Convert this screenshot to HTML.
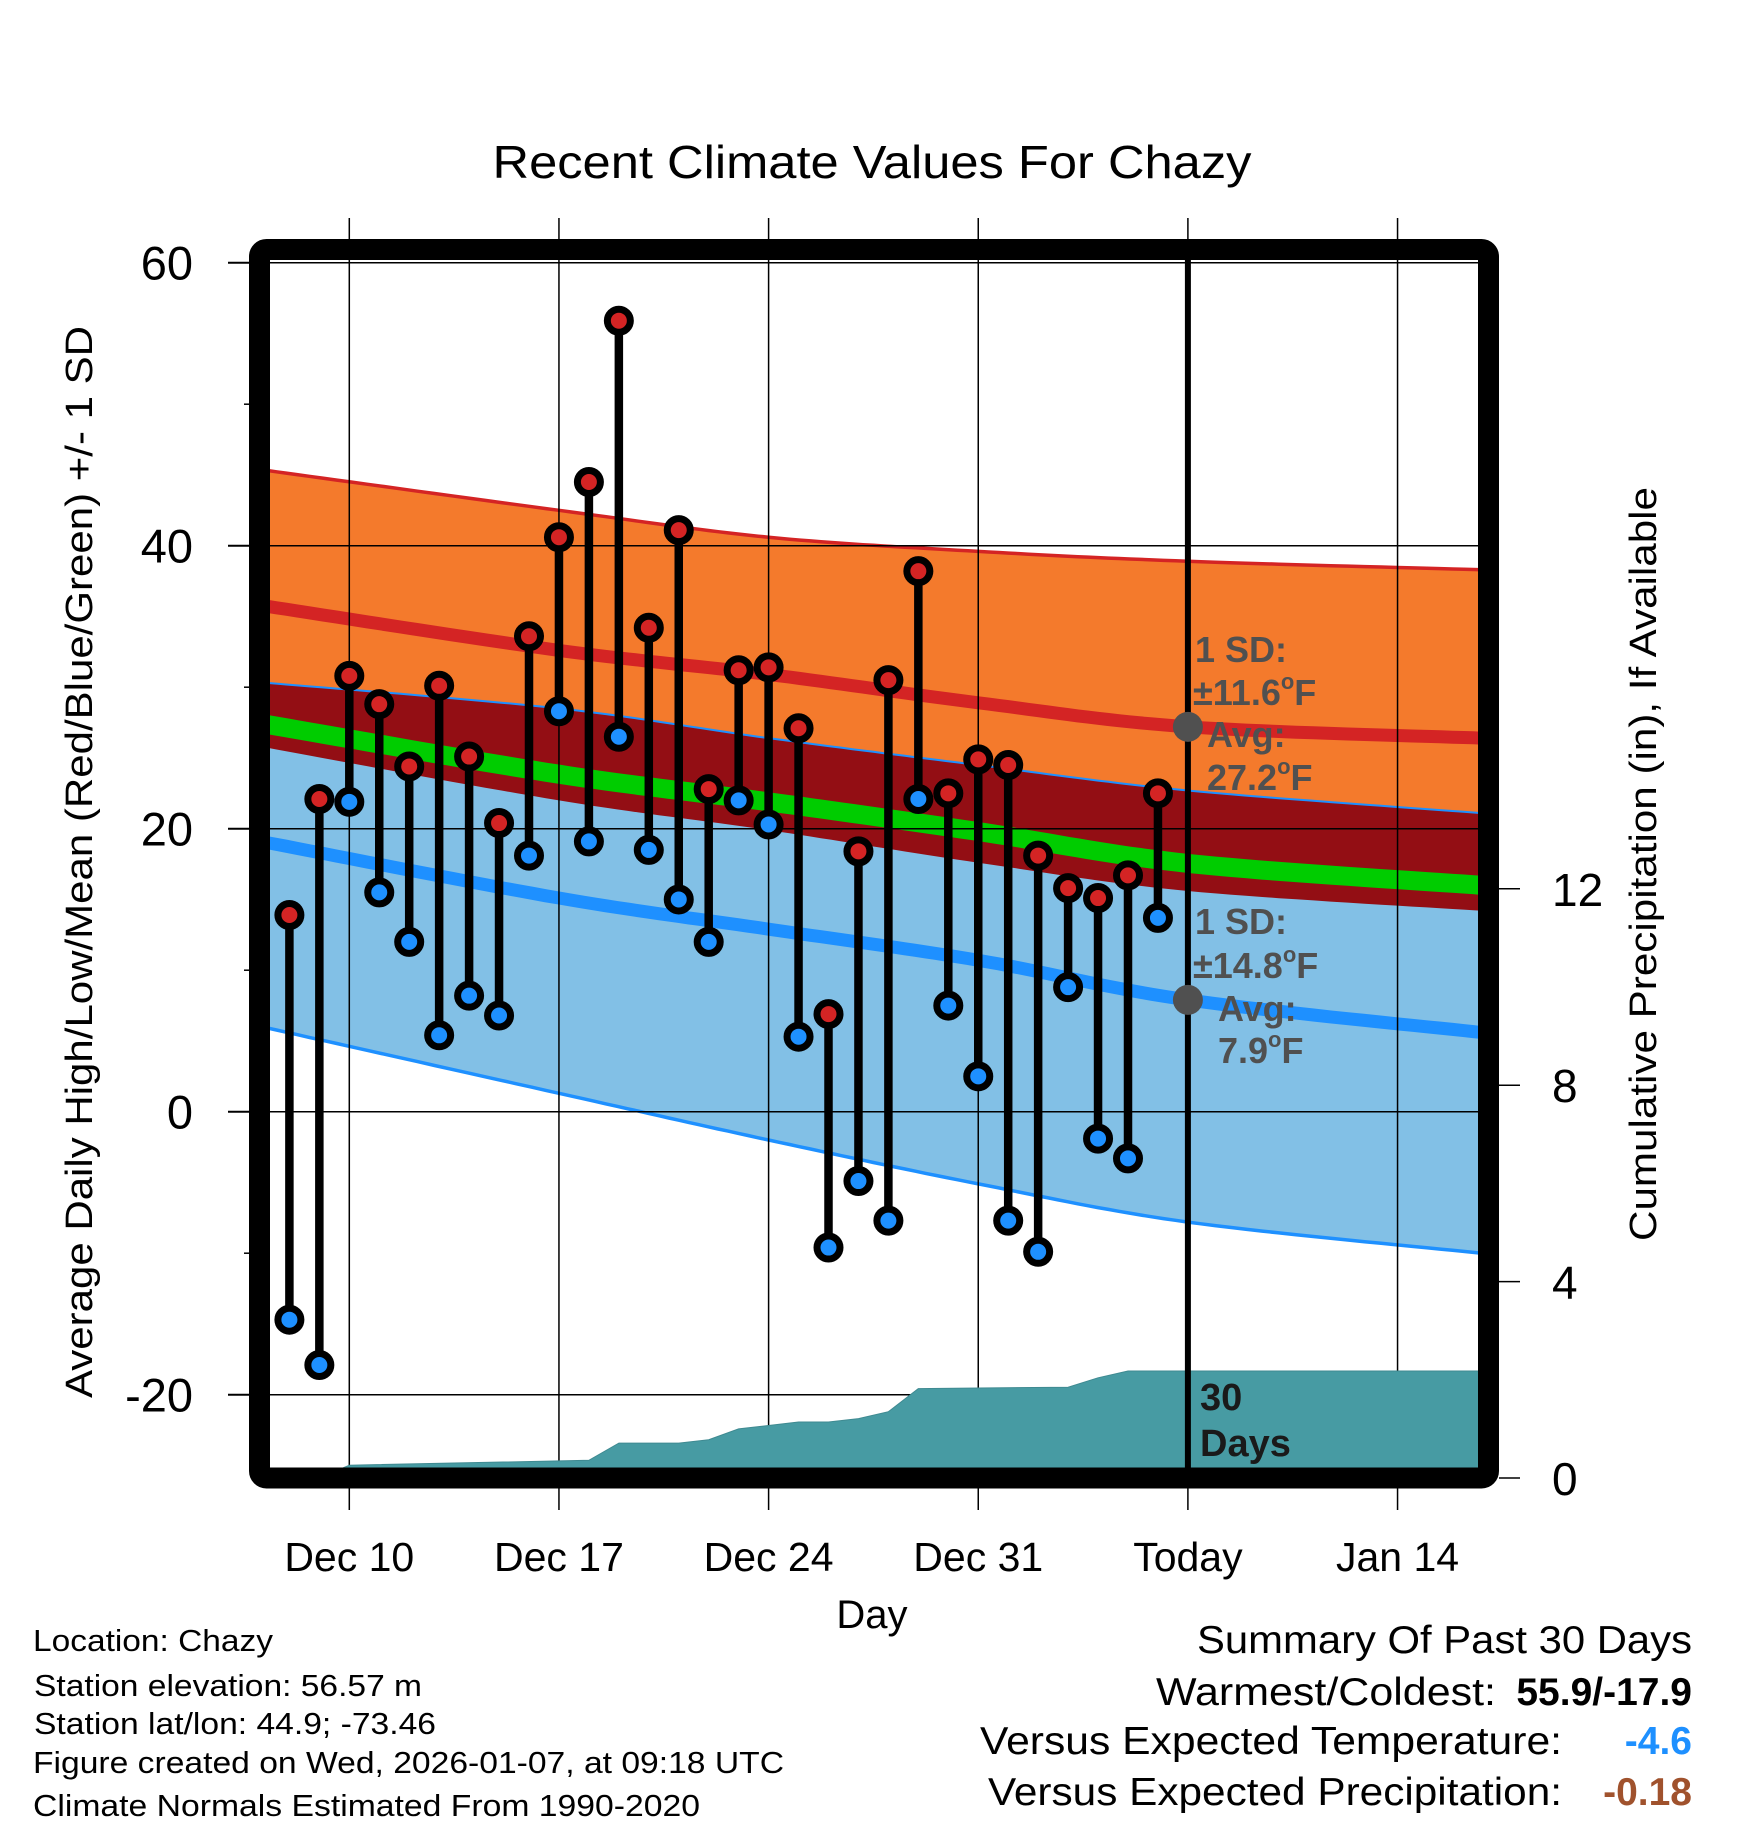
<!DOCTYPE html>
<html><head><meta charset="utf-8"><style>
html,body{margin:0;padding:0;background:#fff}
svg{display:block}
text{font-family:"Liberation Sans",Arial,sans-serif}
</style></head><body>
<svg id="chart" width="1748" height="1828" viewBox="0 0 1748 1828" xmlns="http://www.w3.org/2000/svg">
<defs><clipPath id="plotclip"><rect x="270" y="260" width="1208" height="1208"/></clipPath></defs>
<rect x="0" y="0" width="1748" height="1828" fill="#fff"/>
<text x="872" y="178" font-size="46" text-anchor="middle" textLength="759" lengthAdjust="spacingAndGlyphs">Recent Climate Values For Chazy</text>
<g id="bands" clip-path="url(#plotclip)"></g>
<g id="grid" clip-path="url(#plotclip)"></g>
<g id="precip" clip-path="url(#plotclip)"></g>
<g id="outer"></g>
<g id="marks"></g>
<rect x="259.5" y="249.5" width="1229" height="1228.5" rx="7" fill="none" stroke="#000" stroke-width="21"/>
<g fill="#505050" font-weight="bold" font-size="36">
<text x="1195" y="662">1 SD:</text>
<text x="1193" y="705">±11.6<tspan font-size="22" dy="-16">o</tspan><tspan dy="16">F</tspan></text>
<text x="1207" y="747">Avg:</text>
<text x="1207" y="790">27.2<tspan font-size="22" dy="-16">o</tspan><tspan dy="16">F</tspan></text>
<text x="1195" y="934">1 SD:</text>
<text x="1193" y="978">±14.8<tspan font-size="22" dy="-16">o</tspan><tspan dy="16">F</tspan></text>
<text x="1218" y="1021">Avg:</text>
<text x="1218" y="1063">7.9<tspan font-size="22" dy="-16">o</tspan><tspan dy="16">F</tspan></text>
</g>
<g fill="#1a1a1a" font-weight="bold" font-size="38">
<text x="1200" y="1410">30</text><text x="1200" y="1456">Days</text>
</g>
<text x="872" y="1628" font-size="40" text-anchor="middle">Day</text>
<text transform="translate(92,862) rotate(-90)" font-size="38" text-anchor="middle" textLength="1072" lengthAdjust="spacingAndGlyphs">Average Daily High/Low/Mean (Red/Blue/Green) +/- 1 SD</text>
<text transform="translate(1656,864) rotate(-90)" font-size="38" text-anchor="middle" textLength="754" lengthAdjust="spacingAndGlyphs">Cumulative Precipitation (in), If Available</text>
<g font-size="31">
<text x="33" y="1651" textLength="240" lengthAdjust="spacingAndGlyphs">Location: Chazy</text>
<text x="34" y="1696" textLength="388" lengthAdjust="spacingAndGlyphs">Station elevation: 56.57 m</text>
<text x="34" y="1734" textLength="402" lengthAdjust="spacingAndGlyphs">Station lat/lon: 44.9; -73.46</text>
<text x="33" y="1773" textLength="751" lengthAdjust="spacingAndGlyphs">Figure created on Wed, 2026-01-07, at 09:18 UTC</text>
<text x="33" y="1816" textLength="667" lengthAdjust="spacingAndGlyphs">Climate Normals Estimated From 1990-2020</text>
</g>
<g font-size="39">
<text x="1197" y="1653" textLength="495" lengthAdjust="spacingAndGlyphs">Summary Of Past 30 Days</text>
<text x="1156" y="1705" textLength="340" lengthAdjust="spacingAndGlyphs">Warmest/Coldest:</text>
<text x="1692" y="1705" text-anchor="end" font-weight="bold">55.9/-17.9</text>
<text x="980" y="1754" textLength="582" lengthAdjust="spacingAndGlyphs">Versus Expected Temperature:</text>
<text x="1692" y="1754" text-anchor="end" font-weight="bold" fill="#1e90ff">-4.6</text>
<text x="988" y="1805" textLength="574" lengthAdjust="spacingAndGlyphs">Versus Expected Precipitation:</text>
<text x="1692" y="1805" text-anchor="end" font-weight="bold" fill="#a0522d">-0.18</text>
</g>
</svg>
<script>
// day index: 0 = Dec 10
const highs = [13.9,22.1,30.8,28.8,24.4,30.1,25.1,20.4,33.6,40.6,44.5,55.9,34.2,41.1,22.8,31.2,31.4,27.1,6.9,18.4,30.5,38.2,22.5,24.9,24.5,18.1,15.8,15.1,16.7,22.5];
const lows = [-14.7,-17.9,21.9,15.5,12.0,5.4,8.2,6.8,18.1,28.3,19.1,26.5,18.5,15.0,12.0,22.0,20.3,5.3,-9.6,-4.9,-7.7,22.1,7.5,2.5,-7.7,-9.9,8.8,-1.9,-3.3,13.7];
const firstDay = -2;
const normDays = [-2.7,7,14,21,28,37.8];
const highTop = [45.3,42.5,40.6,39.6,38.9,38.3];
const highMean = [35.7,32.6,30.9,28.9,27.2,26.4];
const highBot = [25.7,22.0,19.9,17.6,15.6,14.2];
const lowTop = [30.3,28.5,26.4,24.5,22.7,21.1];
const lowMean = [19.0,15.1,12.9,10.7,7.9,5.6];
const lowBot = [5.9,1.3,-2.0,-5.1,-7.8,-10.0];
const precipDays = [-2.7,-1,0,8,9,11,12,13,14,15,16,17,18,19,24,25,26,27,37.8];
const precipVals = [0,0,0.26,0.36,0.71,0.71,0.78,1.0,1.07,1.14,1.14,1.21,1.35,1.82,1.85,2.04,2.18,2.18,2.18];
const yTicks = [60,40,20,0,-20];
const yMinor = [50,30,10,-10];
const pTicks = [0,4,8,12];
const xTickDays = [0,7,14,21,28,35];
const xTickLabels = ["Dec 10","Dec 17","Dec 24","Dec 31","Today","Jan 14"];

const NS="http://www.w3.org/2000/svg";
const X = d => 349.3 + 29.95*d;
const Y = t => 1111.7 - 14.15*t;
const P = p => 1478 - 49.1*p;
function mk(tag, attrs, parent){const e=document.createElementNS(NS,tag);for(const k in attrs)e.setAttribute(k,attrs[k]);parent.appendChild(e);return e;}
// smooth Catmull-Rom path through points
function smoothPts(arr){
  const p=normDays.map((d,i)=>[X(d),Y(arr[i])]);
  const out=[];
  for(let i=0;i<p.length-1;i++){
    const p0=p[Math.max(0,i-1)],p1=p[i],p2=p[i+1],p3=p[Math.min(p.length-1,i+2)];
    for(let s=0;s<20;s++){
      const t=s/20,t2=t*t,t3=t2*t;
      const f=k=>0.5*((2*p1[k])+(-p0[k]+p2[k])*t+(2*p0[k]-5*p1[k]+4*p2[k]-p3[k])*t2+(-p0[k]+3*p1[k]-3*p2[k]+p3[k])*t3);
      out.push(f(0).toFixed(1)+","+f(1).toFixed(1));
    }
  }
  const l=p[p.length-1];out.push(l[0].toFixed(1)+","+l[1].toFixed(1));
  return out;
}
function line(arr){return "M"+smoothPts(arr).join(" L");}
function area(a,b){return "M"+smoothPts(a).join(" L")+" L"+smoothPts(b).reverse().join(" L")+"Z";}

const bands=document.getElementById('bands');
let e;
e=mk('path',{d:area(highTop,highBot),fill:'#f47a2c'},bands);


e=mk('path',{d:area(lowTop,lowBot),fill:'#82c0e6'},bands);


e=mk('path',{d:area(lowTop,highBot),fill:'#930e14'},bands);


e=mk('path',{d:line(highTop),fill:'none',stroke:'#d42424','stroke-width':3.5},bands);


e=mk('path',{d:line(lowTop),fill:'none',stroke:'#1e90ff','stroke-width':2},bands);


e=mk('path',{d:line(lowBot),fill:'none',stroke:'#1e90ff','stroke-width':3.5},bands);


e=mk('path',{d:line(highMean),fill:'none',stroke:'#d42424','stroke-width':13},bands);


e=mk('path',{d:line(lowMean),fill:'none',stroke:'#1e90ff','stroke-width':13},bands);


const midMean = highMean.map((h,i)=>(h+lowMean[i])/2);
e=mk('path',{d:line(midMean),fill:'none',stroke:'#00cc00','stroke-width':19},bands);



const grid=document.getElementById('grid');
const outer=document.getElementById('outer');
xTickDays.forEach((d,i)=>{
  const g=mk('line',{x1:X(d),x2:X(d),y1:260,y2:1468,stroke:'#000','stroke-width':1.5},grid);
  
  
  const t1=mk('line',{x1:X(d),x2:X(d),y1:218,y2:250,stroke:'#000','stroke-width':1.5},outer);
  
  
  const t2=mk('line',{x1:X(d),x2:X(d),y1:1478,y2:1510,stroke:'#000','stroke-width':1.5},outer);
  
  
  const lb=mk('text',{x:X(d),y:1571,'font-size':41,'text-anchor':'middle'},outer);
  lb.textContent=xTickLabels[i];
  
  
});
yTicks.forEach(t=>{
  const g=mk('line',{x1:270,x2:1478,y1:Y(t),y2:Y(t),stroke:'#000','stroke-width':1.5},grid);
  
  
  const tk=mk('line',{x1:228,x2:250,y1:Y(t),y2:Y(t),stroke:'#000','stroke-width':2},outer);
  
  
  const lb=mk('text',{x:193,y:Y(t)+17,'font-size':47,'text-anchor':'end'},outer);
  lb.textContent=String(t);
  
  
});
yMinor.forEach(t=>{
  const tk=mk('line',{x1:244,x2:250,y1:Y(t),y2:Y(t),stroke:'#000','stroke-width':1.5},outer);
  
  
});
pTicks.forEach(p=>{
  const tk=mk('line',{x1:1499,x2:1520,y1:P(p),y2:P(p),stroke:'#000','stroke-width':1.5},outer);
  
  
  const lb=mk('text',{x:1552,y:P(p)+17,'font-size':46},outer);
  lb.textContent=String(p);
  
  
});

const pr=document.getElementById('precip');
let pd="M"+X(precipDays[0])+",1470";
precipDays.forEach((d,i)=>{pd+=" L"+X(d).toFixed(1)+","+P(precipVals[i]).toFixed(1);});
pd+=" L"+X(precipDays[precipDays.length-1])+",1470 Z";
e=mk('path',{d:pd,fill:'#479ba3',stroke:'#3f8a91','stroke-width':1},pr);



const marks=document.getElementById('marks');
e=mk('line',{x1:X(28),x2:X(28),y1:260,y2:1468,stroke:'#000','stroke-width':6},marks);


highs.forEach((h,i)=>{
  const x=X(firstDay+i);
  const s=mk('line',{x1:x,x2:x,y1:Y(h),y2:Y(lows[i]),stroke:'#000','stroke-width':8.5},marks);
  
  
});
highs.forEach((h,i)=>{
  const x=X(firstDay+i);
  const c1=mk('circle',{cx:x,cy:Y(h),r:11.5,fill:'#d42424',stroke:'#000','stroke-width':7},marks);
  
  
  const c2=mk('circle',{cx:x,cy:Y(lows[i]),r:11.5,fill:'#1e90ff',stroke:'#000','stroke-width':7},marks);
  
  
});
e=mk('circle',{cx:X(28),cy:Y(27.2),r:15,fill:'#505050'},marks);


e=mk('circle',{cx:X(28),cy:Y(7.9),r:15,fill:'#505050'},marks);


</script>
</body></html>
